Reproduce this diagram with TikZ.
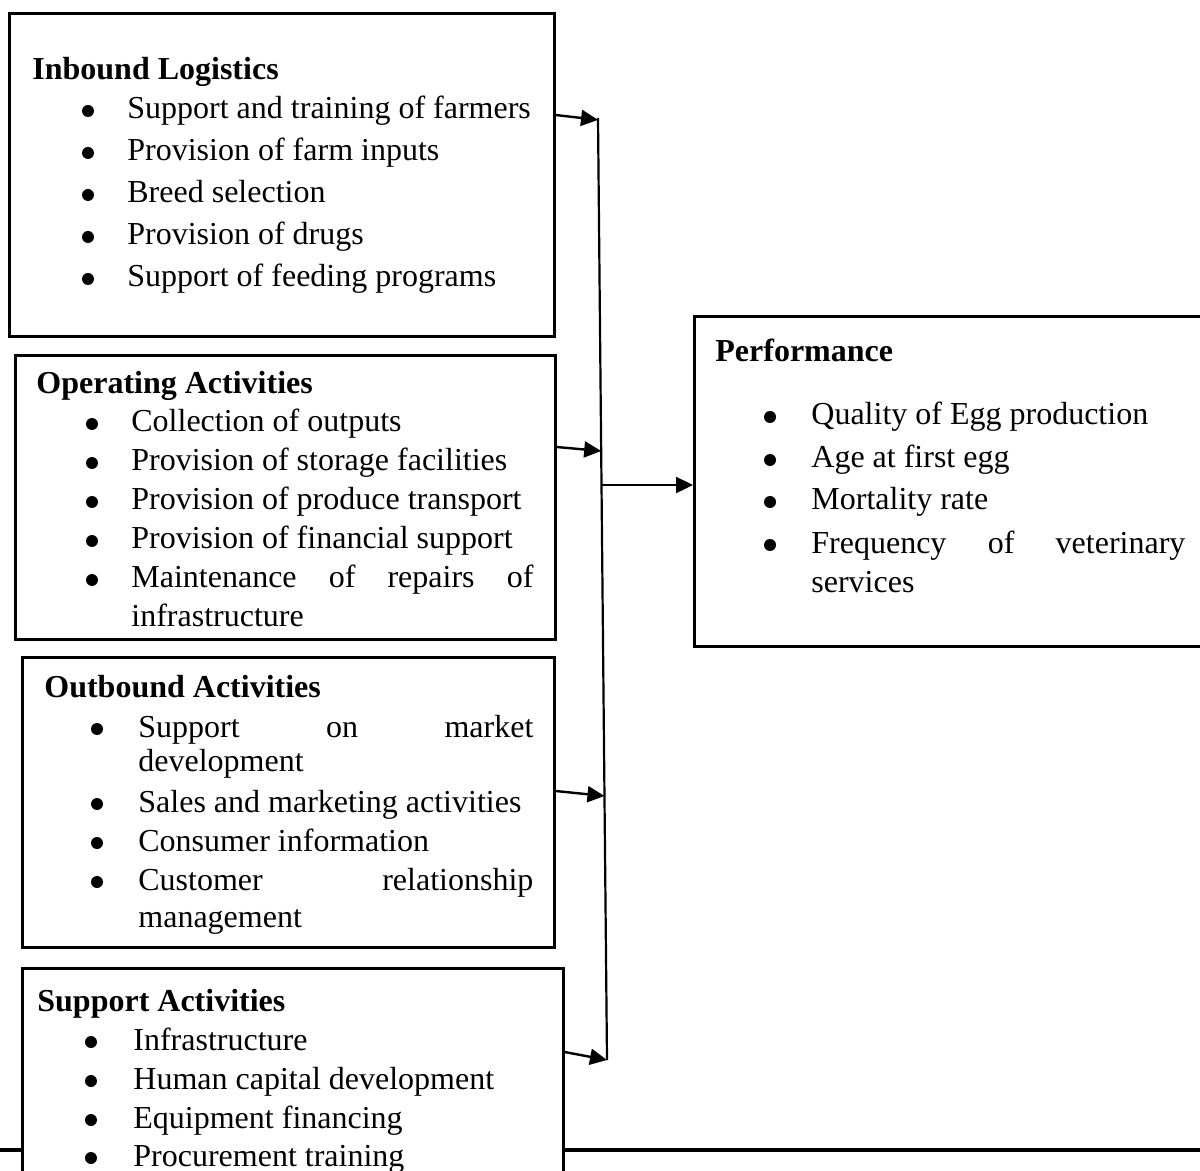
\documentclass[tikz,border=0pt]{standalone}
\usepackage{fontspec}
\setmainfont{Liberation Serif}
\usetikzlibrary{arrows.meta,calc}
\begin{document}
\begin{tikzpicture}[x=0.5pt,y=-0.5pt,
  frame/.style={draw, line width=1.3pt, fill=white, anchor=north west, inner sep=0pt},
  ttl/.style={anchor=base west, inner sep=0pt, font=\fontsize{16}{19}\selectfont\bfseries},
  txt/.style={anchor=base west, inner sep=0pt, font=\fontsize{16}{19}\selectfont},
  bul/.style={circle, fill=black, inner sep=0pt, minimum size=6pt},
  conn/.style={line width=1.2pt, -{Triangle[length=8.5pt,width=8pt]}},
  vline/.style={line width=1.1pt},
  rule/.style={line width=2.2pt},
]
\useasboundingbox (0,0) rectangle (1200,1171);

% bottom rule (behind support box)
\coordinate (r1) at (0,1150);
\coordinate (r2) at (1200,1150);
\draw[rule] (r1) -- (r2);

% ---------- frames ----------
\node[frame, minimum width=272.5pt, minimum height=161.5pt] (ib) at (8,12) {};
\node[frame, minimum width=270pt, minimum height=142pt] (op) at (14,354) {};
\node[frame, minimum width=266pt, minimum height=145pt] (ob) at (21,656) {};
\node[frame, minimum width=270.5pt, minimum height=116.5pt] (sp) at (21,967) {};
\node[frame, minimum width=261pt, minimum height=165pt] (pf) at (693,315) {};

% ---------- Inbound Logistics ----------
\node[ttl] (ibt) at (32,80) {Inbound Logistics};
\node[bul] (ib1b) at (88,111) {};
\node[txt] (ib1) at (127,119) {Support and training of farmers};
\node[bul] (ib2b) at (88,153) {};
\node[txt] (ib2) at (127,161) {Provision of farm inputs};
\node[bul] (ib3b) at (88,195) {};
\node[txt] (ib3) at (127,203) {Breed selection};
\node[bul] (ib4b) at (88,237) {};
\node[txt] (ib4) at (127,245) {Provision of drugs};
\node[bul] (ib5b) at (88,279) {};
\node[txt] (ib5) at (127,287) {Support of feeding programs};

% ---------- Operating Activities ----------
\node[ttl] (opt) at (36,394) {Operating Activities};
\node[bul] (op1b) at (92,424) {};
\node[txt] (op1) at (131,432) {Collection of outputs};
\node[bul] (op2b) at (92,463) {};
\node[txt] (op2) at (131,471) {Provision of storage facilities};
\node[bul] (op3b) at (92,502) {};
\node[txt] (op3) at (131,510) {Provision of produce transport};
\node[bul] (op4b) at (92,541) {};
\node[txt] (op4) at (131,549) {Provision of financial support};
\node[bul] (op5b) at (92,580) {};
\node[txt] (op5) at (131,588) {\makebox[201pt][s]{Maintenance of repairs of}};
\node[txt] (op6) at (131,626) {infrastructure};

% ---------- Outbound Activities ----------
\node[ttl] (obt) at (44,697) {Outbound Activities};
\node[bul] (ob1b) at (97,729) {};
\node[txt] (ob1) at (138,737) {\makebox[197.5pt][s]{Support on market}};
\node[txt] (ob1c) at (138,771) {development};
\node[bul] (ob2b) at (97,804) {};
\node[txt] (ob2) at (138,812) {Sales and marketing activities};
\node[bul] (ob3b) at (97,843) {};
\node[txt] (ob3) at (138,851) {Consumer information};
\node[bul] (ob4b) at (97,882) {};
\node[txt] (ob4) at (138,890) {\makebox[197.5pt][s]{Customer relationship}};
\node[txt] (ob4c) at (138,927) {management};

% ---------- Support Activities ----------
\node[ttl] (spt) at (37,1011) {Support Activities};
\node[bul] (sp1b) at (91,1042) {};
\node[txt] (sp1) at (133,1050) {Infrastructure};
\node[bul] (sp2b) at (91,1081) {};
\node[txt] (sp2) at (133,1089) {Human capital development};
\node[bul] (sp3b) at (91,1120) {};
\node[txt] (sp3) at (133,1128) {Equipment financing};
\node[bul] (sp4b) at (91,1158) {};
\node[txt] (sp4) at (133,1166) {Procurement training};

% ---------- Performance ----------
\node[ttl] (pft) at (715,362) {Performance};
\node[bul] (pf1b) at (770,417) {};
\node[txt] (pf1) at (811,425) {Quality of Egg production};
\node[bul] (pf2b) at (770,460) {};
\node[txt] (pf2) at (811,468) {Age at first egg};
\node[bul] (pf3b) at (770,502) {};
\node[txt] (pf3) at (811,510) {Mortality rate};
\node[bul] (pf4b) at (770,545) {};
\node[txt] (pf4) at (811,553) {\makebox[187pt][s]{Frequency of veterinary}};
\node[txt] (pf4c) at (811,592) {services};

% ---------- connectors ----------
\coordinate (vt) at (598,118);
\coordinate (vb) at (607,1060);
\draw[vline] (vt) -- (vb);

\coordinate (e1) at ($(vt)!0.002!(vb)$);
\coordinate (e2) at ($(vt)!0.3535!(vb)$);
\coordinate (e3) at ($(vt)!0.7197!(vb)$);
\coordinate (e4) at (vb);
\coordinate (eo) at ($(vt)!0.3896!(vb)$);

\draw[conn] (ib.north east |- 0,115) -- (e1);
\draw[conn] (op.north east |- 0,447) -- (e2);
\draw[conn] (ob.north east |- 0,791) -- (e3);
\draw[conn] (sp.north east |- 0,1052) -- (e4);
\draw[conn] (eo) -- (eo -| pf.west);
\end{tikzpicture}
\end{document}
